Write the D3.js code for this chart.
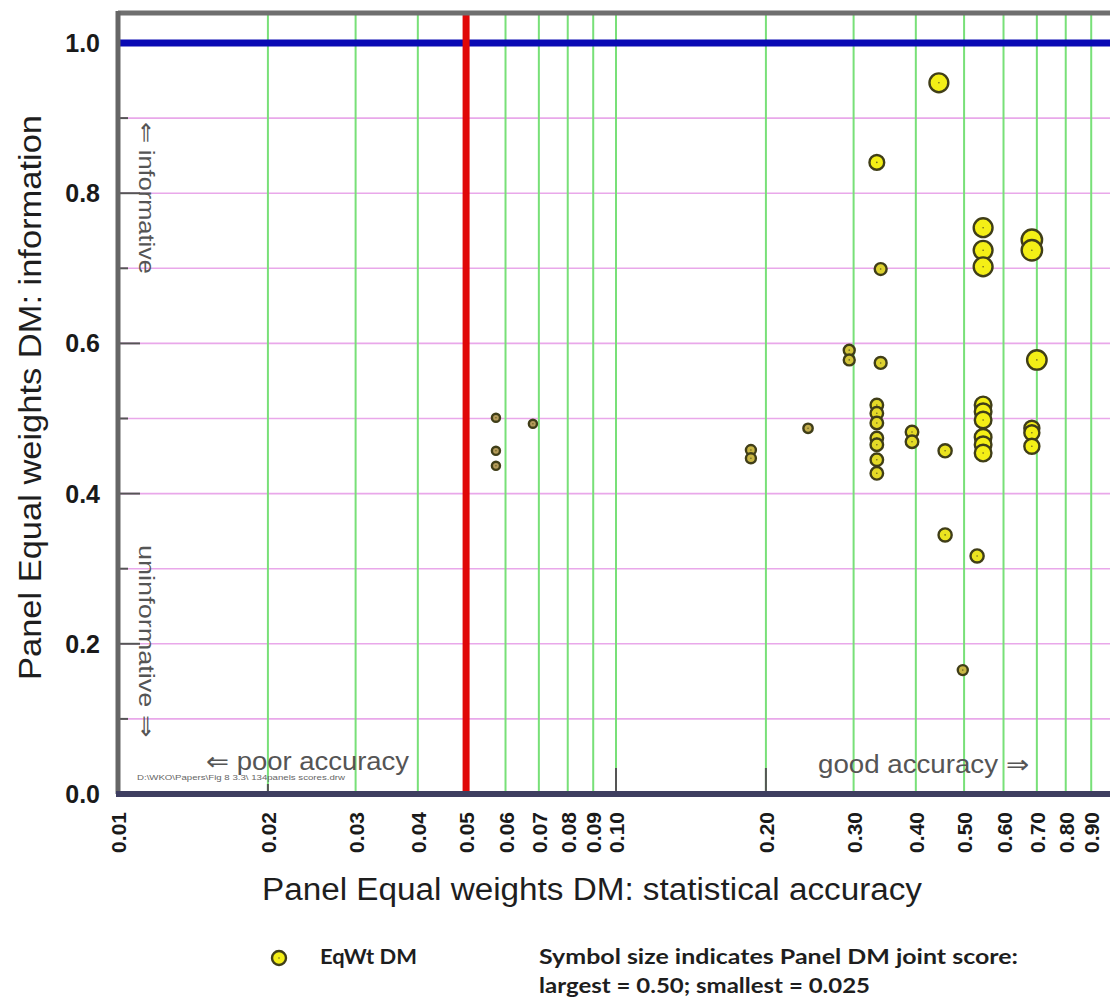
<!DOCTYPE html>
<html>
<head>
<meta charset="utf-8">
<script src="https://cdn.jsdelivr.net/npm/d3@7"></script>
<style>
  body { margin: 0; background: #fff; }
  svg { display: block; font-family: "Liberation Sans", Arial, sans-serif; }
</style>
</head>
<body>
<svg id="chart" width="1110" height="997"></svg>
<script>
// values
const accuracy = [
    0.445, 0.334, 0.340,
    0.546, 0.546, 0.546,
    0.684, 0.684,
    0.294, 0.294, 0.340, 0.700,
    0.334, 0.334, 0.334, 0.334, 0.334, 0.334, 0.334,
    0.393, 0.393, 0.458,
    0.546, 0.546, 0.546, 0.546, 0.546, 0.546,
    0.684, 0.684, 0.684,
    0.458, 0.531, 0.497,
    0.0574, 0.0574, 0.0574, 0.0681,
    0.1866, 0.1866, 0.243
];
const information = [
    0.947, 0.841, 0.699,
    0.754, 0.724, 0.702,
    0.738, 0.724,
    0.591, 0.578, 0.574, 0.578,
    0.518, 0.507, 0.494, 0.474, 0.465, 0.445, 0.427,
    0.482, 0.469, 0.457,
    0.518, 0.509, 0.498, 0.475, 0.465, 0.454,
    0.487, 0.481, 0.463,
    0.345, 0.317, 0.165,
    0.501, 0.457, 0.437, 0.493,
    0.458, 0.447, 0.487
];
const jointScore = [
    0.40, 0.27, 0.18,
    0.40, 0.40, 0.40,
    0.45, 0.45,
    0.15, 0.15, 0.18, 0.42,
    0.20, 0.20, 0.20, 0.20, 0.20, 0.20, 0.20,
    0.20, 0.20, 0.22,
    0.33, 0.33, 0.33, 0.33, 0.33, 0.33,
    0.28, 0.28, 0.28,
    0.22, 0.22, 0.12,
    0.06, 0.06, 0.06, 0.06,
    0.12, 0.12, 0.10
];

const accuracyTicks = [0.01, 0.02, 0.03, 0.04, 0.05, 0.06, 0.07, 0.08, 0.09,
    0.10, 0.20, 0.30, 0.40, 0.50, 0.60, 0.70, 0.80, 0.90];
const informationTicks = [0.0, 0.2, 0.4, 0.6, 0.8, 1.0];
const informationGrid = [0.1, 0.2, 0.3, 0.4, 0.5, 0.6, 0.7, 0.8, 0.9];
const significanceLevel = 0.05;
const scoreRange = [0.025, 0.50];

const svg = d3.select("#chart");
const plotLeft = 118, plotTop = 13, plotBottom = 794, plotRight = 1114;

const x = d3.scaleLog().domain([0.01, 1.0]).range([plotLeft, plotRight]);
const y = d3.scaleLinear().domain([0, 1]).range([plotBottom, 43]);
const r = d3.scaleLinear().domain(scoreRange).range([3.5, 11]);
const fill = d3.scaleLinear().domain([4, 7]).range(["#b39a5c", "#f4ef16"]).clamp(true);

svg.append("rect").attr("width", 1110).attr("height", 997).attr("fill", "#fff");

const chart = svg.append("g");

// horizontal pink grid
chart.selectAll(".hgrid")
    .data(informationGrid)
    .enter()
    .append("line")
    .attr("x1", plotLeft).attr("x2", 1110)
    .attr("y1", d => y(d)).attr("y2", d => y(d))
    .attr("stroke", "#e9a8ea")
    .attr("stroke-width", 1.6);

// vertical green grid
chart.selectAll(".vgrid")
    .data(accuracyTicks.slice(1))
    .enter()
    .append("line")
    .attr("x1", d => x(d)).attr("x2", d => x(d))
    .attr("y1", plotTop).attr("y2", plotBottom)
    .attr("stroke", "#78e078")
    .attr("stroke-width", 2);

// blue line at information = 1
chart.append("line")
    .attr("x1", plotLeft).attr("x2", 1110)
    .attr("y1", y(1)).attr("y2", y(1))
    .attr("stroke", "#0a0ab4")
    .attr("stroke-width", 7);

// red line at the 5% significance level
chart.append("line")
    .attr("x1", x(significanceLevel)).attr("x2", x(significanceLevel))
    .attr("y1", plotTop).attr("y2", plotBottom)
    .attr("stroke", "#e00808")
    .attr("stroke-width", 7);

// inner ticks
chart.selectAll(".ytick")
    .data(informationGrid)
    .enter()
    .append("line")
    .attr("x1", plotLeft).attr("x2", (d, i) => i % 2 ? plotLeft + 22 : plotLeft + 10)
    .attr("y1", d => y(d)).attr("y2", d => y(d))
    .attr("stroke", "#555")
    .attr("stroke-width", 2);

chart.selectAll(".xtick")
    .data([0.02, 0.10, 0.20])
    .enter()
    .append("line")
    .attr("x1", d => x(d)).attr("x2", d => x(d))
    .attr("y1", (d, i) => i === 0 ? plotBottom - 10 : plotBottom - 26).attr("y2", plotBottom)
    .attr("stroke", "#555")
    .attr("stroke-width", 2);

// frame
chart.append("line")
    .attr("x1", plotLeft).attr("x2", 1110).attr("y1", plotTop).attr("y2", plotTop)
    .attr("stroke", "#6f6f6f").attr("stroke-width", 5);
chart.append("line")
    .attr("x1", plotLeft).attr("x2", plotLeft).attr("y1", plotTop - 2).attr("y2", plotBottom)
    .attr("stroke", "#666").attr("stroke-width", 5);
chart.append("line")
    .attr("x1", plotLeft - 2).attr("x2", 1110).attr("y1", plotBottom).attr("y2", plotBottom)
    .attr("stroke", "#3e3e60").attr("stroke-width", 6);

// tick labels
svg.selectAll(".xlabel")
    .data(accuracyTicks)
    .enter()
    .append("text")
    .attr("transform", d => `translate(${x(d) + 8},812) rotate(-90)`)
    .attr("text-anchor", "end")
    .style("font-size", "21px")
    .style("font-weight", "bold")
    .attr("fill", "#1a1a1a")
    .text(d => d3.format(".2f")(d));

svg.selectAll(".ylabel")
    .data(informationTicks)
    .enter()
    .append("text")
    .attr("x", 100)
    .attr("y", d => y(d))
    .attr("dy", "0.36em")
    .attr("text-anchor", "end")
    .style("font-size", "25px")
    .style("font-weight", "bold")
    .attr("fill", "#1a1a1a")
    .text(d => d3.format(".1f")(d));

// axis titles
svg.append("text")
    .attr("x", 262).attr("y", 900)
    .attr("textLength", 660).attr("lengthAdjust", "spacingAndGlyphs")
    .style("font-size", "31px")
    .attr("fill", "#1e1e1e")
    .text("Panel Equal weights DM: statistical accuracy");

svg.append("text")
    .attr("transform", "translate(41,680) rotate(-90)")
    .attr("textLength", 565).attr("lengthAdjust", "spacingAndGlyphs")
    .style("font-size", "31px")
    .attr("fill", "#1e1e1e")
    .text("Panel Equal weights DM: information");

// annotations inside the plot
const note = (txt, transform, len, size) => svg.append("text")
    .attr("transform", transform)
    .attr("textLength", len).attr("lengthAdjust", "spacingAndGlyphs")
    .style("font-size", size + "px")
    .attr("fill", "#555")
    .text(txt);

note("\u21D0 informative", "translate(139,122) rotate(90)", 152, 22);
note("uninformative \u21D2", "translate(139,545) rotate(90)", 192, 22);
note("\u21D0 poor accuracy", "translate(206,770)", 203, 25);
note("good accuracy \u21D2", "translate(818,773)", 211, 25);

svg.append("text")
    .attr("x", 137).attr("y", 780)
    .attr("textLength", 208).attr("lengthAdjust", "spacingAndGlyphs")
    .style("font-size", "7px")
    .attr("fill", "#666")
    .text("D:\\WKO\\Papers\\Fig 8 3.3\\ 134panels scores.drw");

// points
const points = accuracy.map((a, i) => ({ acc: a, info: information[i], score: jointScore[i] }));

const dots = chart.selectAll(".dot")
    .data(points)
    .enter()
    .append("g")
    .attr("transform", d => `translate(${x(d.acc)},${y(d.info)})`);

dots.append("circle")
    .attr("r", d => r(d.score))
    .attr("fill", d => fill(r(d.score)))
    .attr("stroke", "#403e18")
    .attr("stroke-width", 2.4);

dots.append("circle")
    .attr("r", 0.8)
    .attr("fill", "#6a6420");

// legend
const legend = svg.append("g").attr("transform", "translate(279,958)");
legend.append("circle")
    .attr("r", 7)
    .attr("fill", "#f4ef16")
    .attr("stroke", "#403e18")
    .attr("stroke-width", 2.4);
legend.append("circle").attr("r", 0.8).attr("fill", "#6a6420");

const legendText = (txt, xx, yy, len) => svg.append("text")
    .attr("x", xx).attr("y", yy)
    .attr("textLength", len).attr("lengthAdjust", "spacingAndGlyphs")
    .style("font-family", "Lato, 'Open Sans', sans-serif")
    .style("font-size", "20px")
    .style("font-weight", "bold")
    .attr("fill", "#1e1e1e")
    .text(txt);

legendText("EqWt DM", 320, 964, 97);
legendText("Symbol size indicates Panel DM joint score:", 539, 964, 479);
legendText("largest = 0.50; smallest = 0.025", 539, 993, 331);
</script>
</body>
</html>
